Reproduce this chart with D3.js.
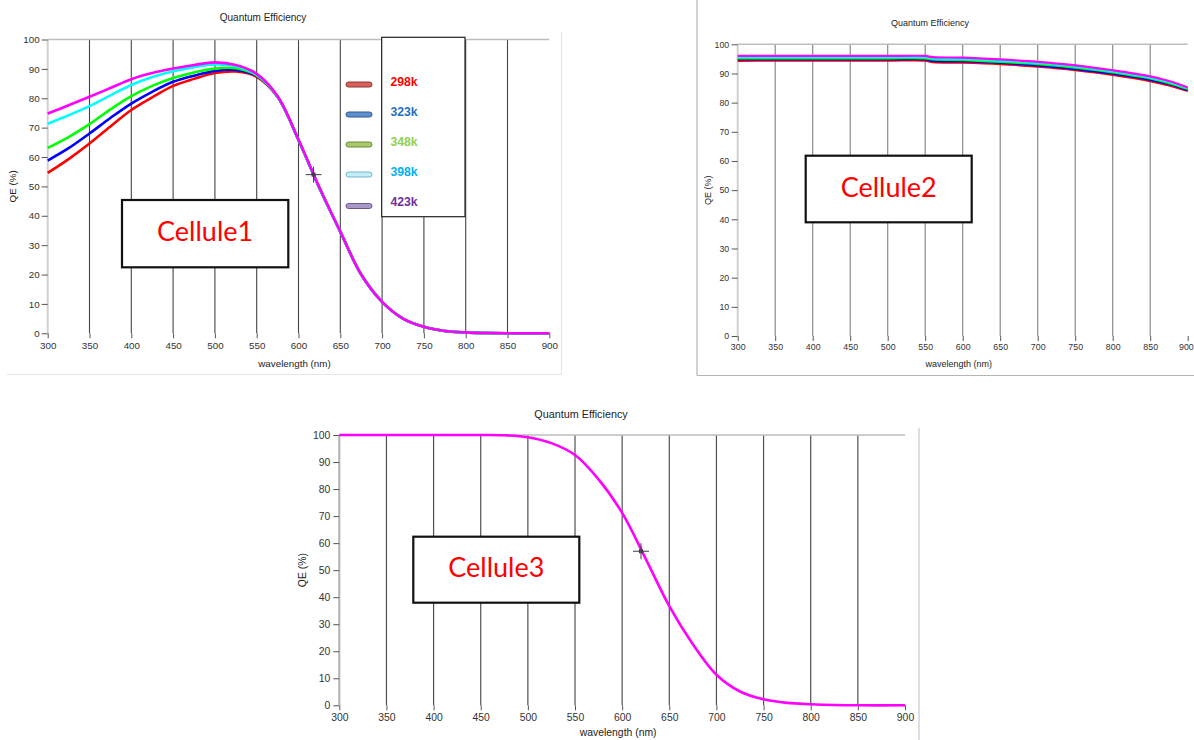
<!DOCTYPE html>
<html>
<head>
<meta charset="utf-8">
<script src="https://cdn.jsdelivr.net/npm/d3@7"></script>
<style>
  body { margin: 0; background: #fff; }
  svg { display: block; }
</style>
</head>
<body>
<svg id="fig" width="1194" height="740"></svg>
<script>
// ---- shared axis values ----
const wavelengthTicks = [300, 350, 400, 450, 500, 550, 600, 650, 700, 750, 800, 850, 900];
const qeTicks = [0, 10, 20, 30, 40, 50, 60, 70, 80, 90, 100];

// ---- temperature series (legend order) ----
const temperatures = ["298k", "323k", "348k", "398k", "423k"];
const lineColors = ["#ff0000", "#0000ff", "#00ff00", "#00ffff", "#ff00ff"];
const legendTextColors = ["#ff0000", "#1f6fc4", "#92d050", "#00b0f0", "#7030a0"];
const swatchFills = ["#d9605c", "#5b8fd0", "#a9c96a", "#c6ecf6", "#a996c9"];
const swatchStrokes = ["#8c3834", "#34598a", "#6a8a36", "#6fb7cc", "#6c5890"];

// ---- Cellule1 : QE (%) per wavelength (nm) ----
const cell1Wavelength = [300, 325, 350, 375, 400, 425, 450, 475, 500, 525, 550, 575, 600, 625, 650, 675, 700, 725, 750, 775, 800, 825, 850, 875, 900];
const cell1_298k = [54.6, 59.3, 64.6, 70.4, 76.0, 80.3, 84.2, 86.6, 88.6, 89.1, 87.3, 80.4, 65.8, 49.5, 34.6, 20.0, 10.7, 5.0, 2.2, 0.8, 0.3, 0.1, 0, 0, 0];
const cell1_323k = [58.8, 63.0, 68.0, 73.3, 78.2, 82.2, 85.6, 87.7, 89.3, 89.6, 87.6, 80.5, 65.8, 49.5, 34.6, 20.0, 10.7, 5.0, 2.2, 0.8, 0.3, 0.1, 0, 0, 0];
const cell1_348k = [63.1, 66.8, 71.2, 76.2, 80.7, 84.2, 86.9, 88.8, 90.1, 90.2, 87.8, 80.5, 65.8, 49.5, 34.6, 20.0, 10.7, 5.0, 2.2, 0.8, 0.3, 0.1, 0, 0, 0];
const cell1_398k = [71.3, 74.2, 77.3, 81.0, 84.5, 87.2, 89.2, 90.6, 91.5, 90.9, 88.0, 80.6, 65.8, 49.5, 34.6, 20.0, 10.7, 5.0, 2.2, 0.8, 0.3, 0.1, 0, 0, 0];
const cell1_423k = [74.8, 77.6, 80.5, 83.5, 86.5, 88.6, 90.1, 91.3, 92.2, 91.3, 88.3, 80.7, 65.9, 49.6, 34.6, 20.0, 10.7, 5.0, 2.2, 0.8, 0.3, 0.1, 0, 0, 0];
const cell1Cursor = [618, 54];

// ---- Cellule2 ----
const cell2Wavelength = [300, 350, 400, 450, 500, 550, 560, 600, 650, 700, 750, 800, 850, 875, 900];
const cell2_298k = [94.3, 94.4, 94.4, 94.4, 94.4, 94.4, 93.9, 93.7, 93.2, 92.3, 91.1, 89.5, 87.4, 85.9, 84.0];
const cell2_323k = [94.8, 94.8, 94.8, 94.8, 94.8, 94.8, 94.3, 94.1, 93.6, 92.7, 91.5, 89.9, 87.8, 86.3, 84.3];
const cell2_348k = [95.2, 95.2, 95.2, 95.2, 95.2, 95.2, 94.8, 94.6, 94.0, 93.2, 92.0, 90.4, 88.3, 86.7, 84.7];
const cell2_398k = [95.6, 95.6, 95.6, 95.6, 95.6, 95.6, 95.2, 95.0, 94.4, 93.6, 92.4, 90.7, 88.6, 87.1, 85.0];
const cell2_423k = [96.0, 96.0, 96.0, 96.0, 96.0, 96.0, 95.6, 95.4, 94.8, 94.0, 92.8, 91.1, 89.0, 87.4, 85.2];

// ---- Cellule3 ----
const cell3Wavelength = [300, 350, 400, 450, 475, 500, 525, 550, 575, 600, 625, 650, 675, 700, 725, 750, 775, 800, 825, 850, 900];
const cell3_qe = [100, 100, 100, 100, 99.9, 99.2, 97.0, 92.6, 83.6, 71.2, 54.2, 36.7, 22.6, 11.3, 5.1, 2.2, 0.9, 0.4, 0.1, 0, 0];
const cell3Cursor = [620, 57];

const svg = d3.select("#fig");
const FONT = "'Liberation Sans', Arial, sans-serif";

function drawPanel(opt) {
  const g = svg.append("g");
  const x = d3.scaleLinear().domain([300, 900]).range([opt.left, opt.right]);
  const y = d3.scaleLinear().domain([0, 100]).range([opt.bottom, opt.top]);

  // panel frame edges
  opt.frame.forEach(f => {
    g.append("line").attr("x1", f[0]).attr("y1", f[1]).attr("x2", f[2]).attr("y2", f[3])
      .attr("stroke", opt.frameColor).attr("stroke-width", 1.2);
  });

  // vertical grid lines
  g.selectAll("line.grid")
    .data(wavelengthTicks.filter(t => t > 300 && t < 900))
    .join("line").attr("class", "grid")
    .attr("x1", d => x(d)).attr("x2", d => x(d))
    .attr("y1", y(100)).attr("y2", y(0))
    .attr("stroke", opt.gridColor).attr("stroke-width", opt.gridWidth);

  // top border and left axis line
  g.append("line").attr("x1", x(300)).attr("x2", x(900)).attr("y1", y(100)).attr("y2", y(100))
    .attr("stroke", "#bdbdbd").attr("stroke-width", 1.4);
  g.append("line").attr("x1", x(300)).attr("x2", x(300)).attr("y1", y(100)).attr("y2", y(0))
    .attr("stroke", opt.leftAxisColor).attr("stroke-width", 2);

  // bottom axis
  const xa = g.append("g").attr("transform", `translate(0,${y(0)})`)
    .call(d3.axisBottom(x).tickValues(wavelengthTicks).tickSize(5).tickSizeOuter(0).tickPadding(opt.xPad));
  xa.select(".domain").remove();
  xa.selectAll("line").attr("stroke", "#555");
  xa.selectAll("text").attr("font-family", FONT).attr("font-size", opt.tickFont).attr("fill", "#333");
  if (opt.clampLast) {
    // the right-most label sits against the panel edge
    xa.selectAll(".tick").filter(d => d === 900).select("text")
      .attr("text-anchor", "end").attr("x", opt.clampLast);
  }

  // left axis
  const ya = g.append("g").attr("transform", `translate(${x(300)},0)`)
    .call(d3.axisLeft(y).tickValues(qeTicks).tickSize(6).tickSizeOuter(0).tickPadding(opt.yPad));
  ya.select(".domain").remove();
  ya.selectAll("line").attr("stroke", "#555");
  ya.selectAll("text").attr("font-family", FONT).attr("font-size", opt.tickFont).attr("fill", "#333");

  // curves
  const line = d3.line().x(d => x(d[0])).y(d => y(d[1])).curve(d3.curveCatmullRom.alpha(0.5));
  opt.series.forEach(s => {
    const pts = opt.wavelength.map((w, i) => [w, s.values[i]]);
    g.append("path").attr("d", line(pts)).attr("fill", "none")
      .attr("stroke", s.color).attr("stroke-width", opt.lineWidth)
      .attr("stroke-linejoin", "round");
  });

  // cursor marker
  if (opt.cursor) {
    const cx = x(opt.cursor[0]), cy = y(opt.cursor[1]);
    const c = g.append("g").attr("stroke", "#3a3a4a").attr("stroke-width", 1);
    c.append("line").attr("x1", cx - 8).attr("x2", cx + 8).attr("y1", cy).attr("y2", cy);
    c.append("line").attr("x1", cx).attr("x2", cx).attr("y1", cy - 8).attr("y2", cy + 8);
    c.append("rect").attr("x", cx - 1.5).attr("y", cy - 1.5).attr("width", 3).attr("height", 3)
      .attr("fill", "none");
  }

  // titles
  g.append("text").attr("x", opt.titleX).attr("y", opt.titleY).attr("text-anchor", "middle")
    .attr("font-family", FONT).attr("font-size", opt.titleFont).attr("fill", "#222")
    .text("Quantum Efficiency");
  g.append("text").attr("x", (opt.left + opt.right) / 2 - 4).attr("y", opt.xLabelY)
    .attr("text-anchor", "middle").attr("font-family", FONT).attr("font-size", opt.labelFont)
    .attr("fill", "#222").text("wavelength (nm)");
  g.append("text")
    .attr("transform", `translate(${opt.yLabelX},${(opt.top + opt.bottom) / 2}) rotate(-90)`)
    .attr("text-anchor", "middle").attr("font-family", FONT).attr("font-size", opt.labelFont)
    .attr("fill", "#222").text("QE (%)");

  // cell name box
  const b = opt.box;
  g.append("rect").attr("x", b[0]).attr("y", b[1]).attr("width", b[2] - b[0]).attr("height", b[3] - b[1])
    .attr("fill", "#fff").attr("stroke", "#111").attr("stroke-width", 2.2);
  g.append("text").attr("x", (b[0] + b[2]) / 2).attr("y", (b[1] + b[3]) / 2 + 7.5)
    .attr("text-anchor", "middle").attr("font-family", "Lato, 'Open Sans', sans-serif")
    .attr("font-size", 27).attr("fill", "#ff0000").text(opt.name);

  return { x, y, g };
}

function cellSeries(arrays) {
  return arrays.map((v, i) => ({ values: v, color: lineColors[i] }));
}

// Cellule1
drawPanel({
  left: 47.7, right: 549.3, top: 39.5, bottom: 333.3,
  wavelength: cell1Wavelength,
  series: cellSeries([cell1_298k, cell1_323k, cell1_348k, cell1_398k, cell1_423k]),
  lineWidth: 2.6, cursor: cell1Cursor,
  gridColor: "#444", gridWidth: 1.1, leftAxisColor: "#d0d0d0",
  frameColor: "#e6e6e6", frame: [[561.5, 32, 561.5, 374.5], [7, 374.5, 561.5, 374.5]],
  xPad: 4, yPad: 2, tickFont: 9.8, titleFont: 10, labelFont: 9.8,
  titleX: 263, titleY: 20.5, xLabelY: 367, yLabelX: 16,
  box: [122, 200, 288.3, 267.3], name: "Cellule1"
});

// legend for Cellule1
const lg = svg.append("g");
lg.append("rect").attr("x", 381.7).attr("y", 37.3).attr("width", 83.3).attr("height", 179.4)
  .attr("fill", "#fff").attr("stroke", "#222").attr("stroke-width", 1.2);
temperatures.forEach((t, i) => {
  const ty = 81 + i * 30;
  lg.append("rect").attr("x", 346).attr("y", ty + 1 + (i === 4 ? 1.5 : 0)).attr("width", 26).attr("height", 5)
    .attr("rx", 2.5).attr("fill", swatchFills[i]).attr("stroke", swatchStrokes[i]).attr("stroke-width", 1);
  lg.append("text").attr("x", 390.5).attr("y", ty + 4.5)
    .attr("font-family", FONT).attr("font-weight", "bold").attr("font-size", 12.2)
    .attr("fill", legendTextColors[i]).text(t);
});

// Cellule2
drawPanel({
  left: 737.7, right: 1187.7, top: 44.3, bottom: 336,
  wavelength: cell2Wavelength,
  series: cellSeries([cell2_298k, cell2_323k, cell2_348k, cell2_398k, cell2_423k]),
  lineWidth: 2.2, cursor: null,
  gridColor: "#8a8a8a", gridWidth: 1.2, leftAxisColor: "#d0d0d0",
  frameColor: "#b5b5b5", frame: [[697, 0, 697, 375.5], [697, 375.5, 1194, 375.5]],
  xPad: 3, yPad: 2.5, tickFont: 8.8, titleFont: 9, labelFont: 9,
  titleX: 930, titleY: 26, xLabelY: 367, yLabelX: 711,
  box: [805.7, 155.7, 971.7, 222.3], name: "Cellule2", clampLast: 5.5
});

// Cellule3
drawPanel({
  left: 339.3, right: 905, top: 435, bottom: 705.3,
  wavelength: cell3Wavelength,
  series: [{ values: cell3_qe, color: "#ff00ff" }],
  lineWidth: 2.6, cursor: cell3Cursor,
  gridColor: "#505050", gridWidth: 1.2, leftAxisColor: "#b0b0b0",
  frameColor: "#c8c8c8", frame: [[919, 428, 919, 740]],
  xPad: 3.5, yPad: 3, tickFont: 10.4, titleFont: 10.8, labelFont: 10.4,
  titleX: 581, titleY: 418, xLabelY: 736, yLabelX: 306,
  box: [413.3, 536.7, 579.3, 602.7], name: "Cellule3"
});
</script>
</body>
</html>
